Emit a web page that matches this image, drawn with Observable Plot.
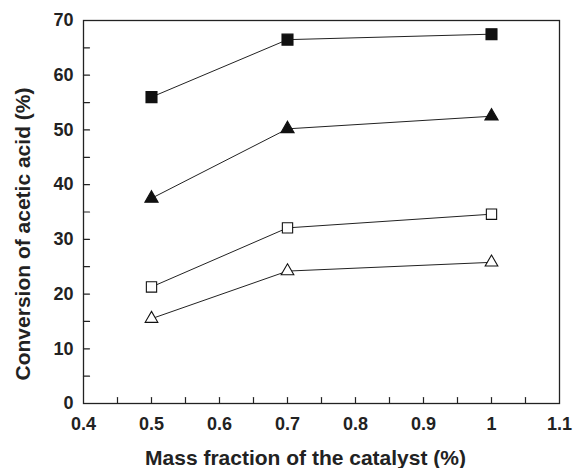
<!DOCTYPE html>
<html>
<head>
<meta charset="utf-8">
<script src="https://cdn.jsdelivr.net/npm/d3@7"></script>
<script src="https://cdn.jsdelivr.net/npm/@observablehq/plot@0.6"></script>
<style>
  html, body { margin: 0; padding: 0; background: #fff; }
</style>
</head>
<body>
<div id="chart"></div>
<script>
const massFraction = [0.5, 0.7, 1.0];
const filledSquare = [56.0, 66.5, 67.5];
const filledTriangle = [37.5, 50.2, 52.5];
const openSquare = [21.3, 32.1, 34.6];
const openTriangle = [15.5, 24.2, 25.8];

const xTickLabels = [0.4, 0.5, 0.6, 0.7, 0.8, 0.9, 1.0, 1.1];
const xTickMarks = [0.45, 0.5, 0.55, 0.6, 0.65, 0.7, 0.75, 0.8, 0.85, 0.9, 0.95, 1.0, 1.05];
const yTickLabels = [0, 10, 20, 30, 40, 50, 60, 70];
const yTickMarks = [5, 10, 15, 20, 25, 30, 35, 40, 45, 50, 55, 60, 65];

const xTitle = "Mass fraction of the catalyst (%)";
const yTitle = "Conversion of acetic acid (%)";

const seriesDefs = [
  {name: "filledSquare", values: filledSquare, symbol: "square", fill: "#111", r: 6.2},
  {name: "filledTriangle", values: filledTriangle, symbol: "triangle", fill: "#111", r: 4.9},
  {name: "openSquare", values: openSquare, symbol: "square", fill: "#fff", r: 5.8},
  {name: "openTriangle", values: openTriangle, symbol: "triangle", fill: "#fff", r: 4.7}
];

const rows = seriesDefs.flatMap(s => massFraction.map((x, i) => ({series: s.name, x, y: s.values[i]})));

const tickShapeUp = {draw(context, l) { context.moveTo(0, 0); context.lineTo(0, -l); }};

const chart = Plot.plot({
  width: 575,
  height: 468,
  marginLeft: 83,
  marginRight: 16,
  marginTop: 20,
  marginBottom: 65,
  style: {fontFamily: "'Liberation Sans', Arial, sans-serif", fontSize: "18px", fontWeight: "bold", color: "#222", background: "#fff"},
  x: {domain: [0.4, 1.1]},
  y: {domain: [0, 70]},
  marks: [
    Plot.frame({stroke: "#222", strokeWidth: 1.3}),
    Plot.axisX(xTickLabels, {tickSize: 0, tickPadding: 14, tickFormat: d3.format("~g"), label: null, fill: "#222", fontSize: 18}),
    Plot.axisY(yTickLabels, {tickSize: 0, tickPadding: 10, tickFormat: d3.format("~g"), label: null, fill: "#222", fontSize: 18}),
    Plot.vector(xTickMarks, {x: d => d, frameAnchor: "bottom", length: 6, rotate: 0, anchor: "start", shape: tickShapeUp, stroke: "#222", strokeWidth: 1.2}),
    Plot.vector(yTickMarks, {y: d => d, frameAnchor: "left", length: 6, rotate: 90, anchor: "start", shape: tickShapeUp, stroke: "#222", strokeWidth: 1.2}),
    Plot.line(rows, {x: "x", y: "y", z: "series", stroke: "#222", strokeWidth: 1}),
    ...seriesDefs.map(s => Plot.dot(rows.filter(d => d.series === s.name), {x: "x", y: "y", symbol: () => s.symbol, r: s.r, fill: s.fill, stroke: "#111", strokeWidth: 1.1})),
    Plot.text([xTitle], {text: d => d, frameAnchor: "bottom", dx: -16, dy: 55, lineAnchor: "middle", textAnchor: "middle", fontSize: 21, fontWeight: "bold", fill: "#222"}),
    Plot.text([yTitle], {text: d => d, frameAnchor: "left", rotate: -90, dx: -60, dy: 22, lineAnchor: "middle", textAnchor: "middle", fontSize: 21, fontWeight: "bold", fill: "#222"})
  ]
});
document.getElementById("chart").appendChild(chart);
</script>
</body>
</html>
